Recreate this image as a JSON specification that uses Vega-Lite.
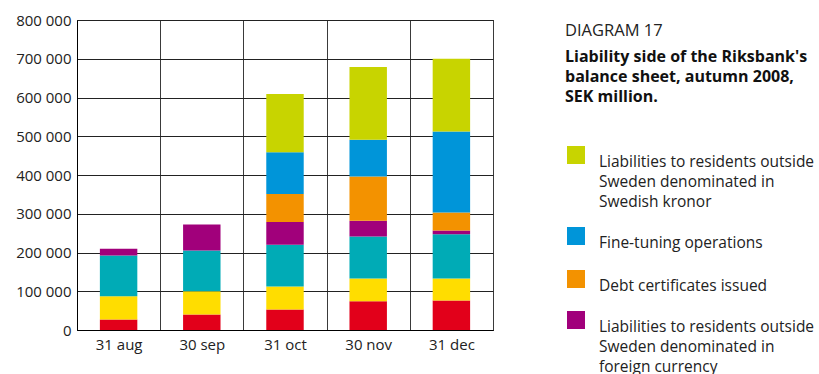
{
  "$schema": "https://vega.github.io/schema/vega-lite/v6.json",
  "width": 416,
  "height": 310,
  "autosize": {"type": "none"},
  "padding": {"left": 77, "top": 20, "right": 326, "bottom": 44},
  "background": "white",
  "title": {
    "text": "DIAGRAM 17",
    "subtitle": ["Liability side of the Riksbank's", "balance sheet, autumn 2008,", "SEK million."],
    "orient": "top",
    "anchor": "start",
    "frame": "group",
    "dx": 488,
    "dy": 92,
    "offset": 0,
    "font": "Open Sans",
    "fontSize": 16.5,
    "fontWeight": "normal",
    "color": "#222222",
    "subtitleFont": "Open Sans",
    "subtitleFontSize": 16,
    "subtitleFontWeight": "bold",
    "subtitleColor": "#111111",
    "subtitleLineHeight": 20,
    "subtitlePadding": 10
  },
  "config": {
    "view": {"stroke": "#000000", "strokeWidth": 1},
    "style": {"guide-label": {"lineHeight": 20}},
    "legend": {
      "symbolType": "square",
      "symbolSize": 324,
      "symbolStrokeWidth": 0,
      "symbolOpacity": 1,
      "labelFont": "Open Sans",
      "labelFontSize": 15.5,
      "labelColor": "#222222",
      "labelOffset": 14,
      "labelBaseline": "top",
      "labelLimit": 0
    }
  },
  "data": {
    "values": [
      {"date": "31 aug", "series": "Other liabilities", "level": 1, "value": 27000},
      {"date": "31 aug", "series": "Equity", "level": 2, "value": 60000},
      {"date": "31 aug", "series": "Banknotes and coins in circulation", "level": 3, "value": 105000},
      {"date": "31 aug", "series": "Liabilities to residents outside Sweden denominated in foreign currency", "level": 4, "value": 18000},

      {"date": "30 sep", "series": "Other liabilities", "level": 1, "value": 40000},
      {"date": "30 sep", "series": "Equity", "level": 2, "value": 60000},
      {"date": "30 sep", "series": "Banknotes and coins in circulation", "level": 3, "value": 105000},
      {"date": "30 sep", "series": "Liabilities to residents outside Sweden denominated in foreign currency", "level": 4, "value": 67000},

      {"date": "31 oct", "series": "Other liabilities", "level": 1, "value": 53000},
      {"date": "31 oct", "series": "Equity", "level": 2, "value": 59000},
      {"date": "31 oct", "series": "Banknotes and coins in circulation", "level": 3, "value": 108000},
      {"date": "31 oct", "series": "Liabilities to residents outside Sweden denominated in foreign currency", "level": 4, "value": 59000},
      {"date": "31 oct", "series": "Debt certificates issued", "level": 5, "value": 72000},
      {"date": "31 oct", "series": "Fine-tuning operations", "level": 6, "value": 108000},
      {"date": "31 oct", "series": "Liabilities to residents outside Sweden denominated in Swedish kronor", "level": 7, "value": 150000},

      {"date": "30 nov", "series": "Other liabilities", "level": 1, "value": 74000},
      {"date": "30 nov", "series": "Equity", "level": 2, "value": 59000},
      {"date": "30 nov", "series": "Banknotes and coins in circulation", "level": 3, "value": 108000},
      {"date": "30 nov", "series": "Liabilities to residents outside Sweden denominated in foreign currency", "level": 4, "value": 41000},
      {"date": "30 nov", "series": "Debt certificates issued", "level": 5, "value": 114000},
      {"date": "30 nov", "series": "Fine-tuning operations", "level": 6, "value": 95000},
      {"date": "30 nov", "series": "Liabilities to residents outside Sweden denominated in Swedish kronor", "level": 7, "value": 188000},

      {"date": "31 dec", "series": "Other liabilities", "level": 1, "value": 76000},
      {"date": "31 dec", "series": "Equity", "level": 2, "value": 57000},
      {"date": "31 dec", "series": "Banknotes and coins in circulation", "level": 3, "value": 114000},
      {"date": "31 dec", "series": "Liabilities to residents outside Sweden denominated in foreign currency", "level": 4, "value": 10000},
      {"date": "31 dec", "series": "Debt certificates issued", "level": 5, "value": 46000},
      {"date": "31 dec", "series": "Fine-tuning operations", "level": 6, "value": 209000},
      {"date": "31 dec", "series": "Liabilities to residents outside Sweden denominated in Swedish kronor", "level": 7, "value": 188000}
    ]
  },
  "resolve": {"scale": {"color": "shared"}, "legend": {"color": "independent"}},
  "layer": [
    {
      "mark": {"type": "bar", "width": {"band": 0.45}},
      "encoding": {
        "x": {
          "field": "date",
          "type": "nominal",
          "sort": ["31 aug", "30 sep", "31 oct", "30 nov", "31 dec"],
          "scale": {"paddingInner": 0, "paddingOuter": 0},
          "axis": {
            "title": null,
            "tickBand": "extent",
            "ticks": false,
            "grid": true,
            "gridColor": "#3a3a3a",
            "gridWidth": 1,
            "domainColor": "#000000",
            "domainWidth": 1,
            "labelAngle": 0,
            "labelPadding": 7,
            "labelFont": "Open Sans",
            "labelFontSize": 15,
            "labelColor": "#222222"
          }
        },
        "y": {
          "field": "value",
          "type": "quantitative",
          "stack": "zero",
          "scale": {"domain": [0, 800000], "nice": false},
          "axis": {
            "title": null,
            "values": [0, 100000, 200000, 300000, 400000, 500000, 600000, 700000, 800000],
            "labelExpr": "replace(format(datum.value, ','), regexp(',', 'g'), ' ')",
            "ticks": false,
            "grid": true,
            "gridColor": "#222222",
            "gridWidth": 1,
            "domainColor": "#000000",
            "domainWidth": 1,
            "labelPadding": 6,
            "labelFont": "Open Sans",
            "labelFontSize": 15,
            "labelColor": "#222222"
          }
        },
        "order": {"field": "level", "type": "quantitative", "sort": "ascending"},
        "color": {
          "field": "series",
          "type": "nominal",
          "scale": {
            "domain": [
              "Other liabilities",
              "Equity",
              "Banknotes and coins in circulation",
              "Liabilities to residents outside Sweden denominated in foreign currency",
              "Debt certificates issued",
              "Fine-tuning operations",
              "Liabilities to residents outside Sweden denominated in Swedish kronor"
            ],
            "range": ["#e2001a", "#ffdd00", "#00abb6", "#a1007b", "#f39200", "#0095d9", "#c8d400"]
          },
          "legend": {
            "orient": "none",
            "legendX": 490,
            "legendY": 126,
            "title": null,
            "values": ["Liabilities to residents outside Sweden denominated in Swedish kronor"],
            "labelExpr": "['Liabilities to residents outside', 'Sweden denominated in', 'Swedish kronor']"
          }
        }
      }
    },
    {
      "transform": [{"filter": "false"}],
      "mark": {"type": "bar"},
      "encoding": {
        "color": {
          "field": "series",
          "type": "nominal",
          "legend": {
            "orient": "none",
            "legendX": 490,
            "legendY": 207,
            "title": null,
            "rowPadding": 18,
            "values": ["Fine-tuning operations", "Debt certificates issued"]
          }
        }
      }
    },
    {
      "transform": [{"filter": "false"}],
      "mark": {"type": "bar"},
      "encoding": {
        "color": {
          "field": "series",
          "type": "nominal",
          "legend": {
            "orient": "none",
            "legendX": 490,
            "legendY": 291,
            "title": null,
            "values": ["Liabilities to residents outside Sweden denominated in foreign currency"],
            "labelExpr": "['Liabilities to residents outside', 'Sweden denominated in', 'foreign currency']"
          }
        }
      }
    }
  ]
}
